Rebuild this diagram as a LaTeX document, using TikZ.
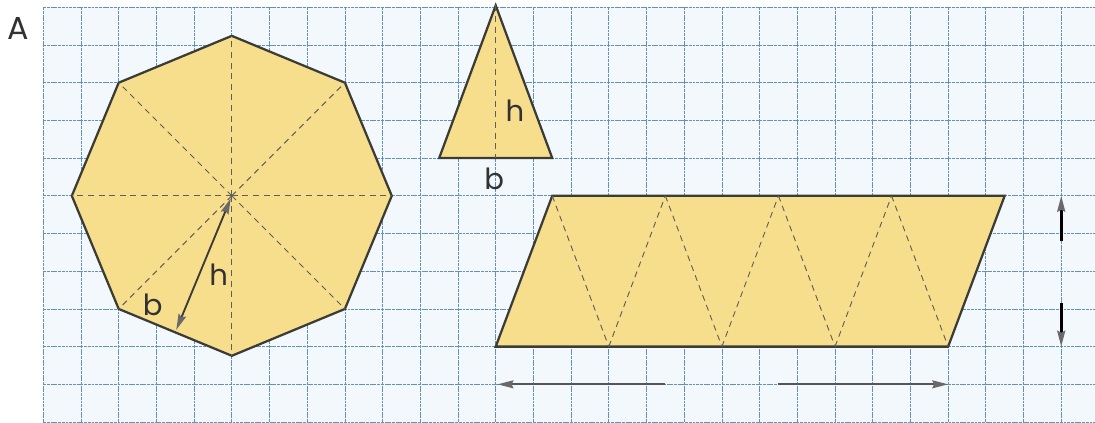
\documentclass[tikz,border=0pt]{standalone}
\usepackage{fontspec}
\setmainfont{Poppins}
\usetikzlibrary{arrows.meta,calc}
\definecolor{paperblue} {RGB}{242,248,252}
\definecolor{gridblue}  {RGB}{100,145,185}
\definecolor{tileyellow}{RGB}{247,222,140}
\definecolor{edgegray}  {RGB}{ 60, 60, 55}
\definecolor{cutgray}   {RGB}{ 95, 95, 90}
\definecolor{tipgray}   {RGB}{105,105,105}
\definecolor{arrowgray} {RGB}{ 85, 85, 85}
\definecolor{textgray}  {RGB}{ 50, 50, 50}
\tikzset{
  gridln/.style={gridblue,line width=0.5pt,dash pattern=on 2.2pt off 0.6pt},
  tile/.style={fill=tileyellow,draw=edgegray,line width=1.7pt},
  cut/.style={cutgray,line width=0.7pt,dash pattern=on 4.5pt off 3.5pt},
  measure/.style={edgegray,line width=1.4pt},
  measuredark/.style={measure,black,line width=2pt},
  measurelight/.style={measure,arrowgray},
  lbl/.style={font=\fontsize{22}{22}\selectfont,text=textgray,inner sep=0pt},
}
\begin{document}
\begin{tikzpicture}[y=-1cm,>={Stealth[length=12pt,width=6pt,inset=1.5pt,color=tipgray]}]
  \useasboundingbox (-1.1485,-0.194) rectangle (27.896,11.0);
  \fill[paperblue] (0,0) rectangle (27.896,11.0);
  \draw[gridln] (0,0) grid (27.896,11.0);

  \node[lbl,font=\fontsize{24}{24}\selectfont] (tag) at (-0.66,0.56) {A};

  % octagon
  \coordinate (O) at (5,5);
  \foreach \k in {0,...,7}
    \coordinate (V\k) at ($(O)+(\k*45:4.243)$);
  \draw[tile] (V0) -- (V1) -- (V2) -- (V3) -- (V4) -- (V5) -- (V6) -- (V7) -- cycle;
  \foreach \k in {0,...,7}
    \draw[cut] (O) -- (V\k);
  \coordinate (M) at ($(V2)!0.5!(V3)$);
  \draw[measure,<->,shorten <=2pt,shorten >=2pt] (O) -- (M);
  \node[lbl] (octh) at (4.65,7.1) {h};
  \node[lbl] (octb) at (2.9,7.9) {b};

  % triangle
  \coordinate (Ta) at (12,-0.05);
  \coordinate (Tl) at (10.5,4);
  \coordinate (Tr) at (13.5,4);
  \coordinate (Tf) at (12,4);
  \draw[tile] (Ta) -- (Tl) -- (Tr) -- cycle;
  \draw[cut] (Ta) -- (Tf);
  \node[lbl] (trih) at (12.51,2.74) {h};
  \node[lbl] (trib) at (11.96,4.54) {b};

  % parallelogram
  \foreach \i in {0,...,4} {
    \coordinate (B\i) at (12+3*\i,9);
    \coordinate (T\i) at (13.5+3*\i,5);
  }
  \draw[tile] (B0) -- (T0) -- (T4) -- (B4) -- cycle;
  \foreach \i/\j in {0/1,1/2,2/3,3/4}
    \draw[cut] (T\i) -- (B\j);
  \foreach \j in {1,2,3}
    \draw[cut] (B\j) -- (T\j);

  \coordinate (L1) at (16.5,10);
  \coordinate (L2) at (12.05,10);
  \coordinate (R1) at (19.5,10);
  \coordinate (R2) at (24,10);
  \draw[measurelight,->] (L1) -- (L2);
  \draw[measurelight,->] (R1) -- (R2);

  \coordinate (U1) at (27,6.2);
  \coordinate (U2) at (27,5);
  \coordinate (D1) at (27,7.85);
  \coordinate (D2) at (27,9);
  \draw[measuredark,->] (U1) -- (U2);
  \draw[measuredark,->] (D1) -- (D2);
\end{tikzpicture}
\end{document}
